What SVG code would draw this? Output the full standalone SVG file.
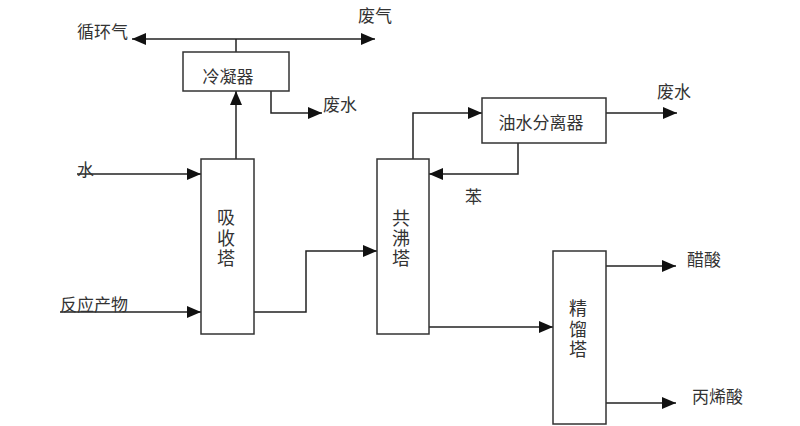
<svg xmlns="http://www.w3.org/2000/svg" width="800" height="426" viewBox="0 0 800 426">
<style>
.box{fill:#fff;stroke:#333;stroke-width:1.5}
.ln{fill:none;stroke:#222;stroke-width:1.5}
text{font-family:"Liberation Serif","Noto Sans CJK SC",serif;font-size:17px;fill:#333}
.c{text-anchor:middle}
.v{font-size:18px;text-anchor:middle}
</style>
<defs>
<marker id="ah" markerUnits="userSpaceOnUse" markerWidth="14" markerHeight="12" refX="14" refY="6" orient="auto-start-reverse">
<path d="M0,0 L14,6 L0,12 z" fill="#111"/>
</marker>
</defs>
<rect width="800" height="426" fill="#fff"/>
<g id="connectors">
<path class="ln" d="M132,39 H375" marker-start="url(#ah)" marker-end="url(#ah)"/>
<path class="ln" d="M236,52 V39"/>
<path class="ln" d="M236,159 V91" marker-end="url(#ah)"/>
<path class="ln" d="M271,83 V113 H322" marker-end="url(#ah)"/>
<path class="ln" d="M77,174 H201" marker-end="url(#ah)"/>
<path class="ln" d="M60,312 H201" marker-end="url(#ah)"/>
<path class="ln" d="M254,312 H306 V251 H377" marker-end="url(#ah)"/>
<path class="ln" d="M413,159 V113 H482" marker-end="url(#ah)"/>
<path class="ln" d="M606,113 H677" marker-end="url(#ah)"/>
<path class="ln" d="M518,143 V174 H429" marker-end="url(#ah)"/>
<path class="ln" d="M429,327 H553" marker-end="url(#ah)"/>
<path class="ln" d="M606,266 H676" marker-end="url(#ah)"/>
<path class="ln" d="M606,403 H676" marker-end="url(#ah)"/>
</g>
<g id="condenser">
<rect class="box" x="183" y="52" width="106" height="39"/>
<text class="c" x="228" y="83">冷凝器</text>
</g>
<g id="absorber">
<rect class="box" x="201" y="159" width="53" height="175"/>
<text class="v" x="226" y="224">吸</text>
<text class="v" x="226" y="245">收</text>
<text class="v" x="226" y="265">塔</text>
</g>
<g id="azeotrope">
<rect class="box" x="377" y="159" width="52" height="175"/>
<text class="v" x="401" y="225">共</text>
<text class="v" x="401" y="245">沸</text>
<text class="v" x="401" y="265">塔</text>
</g>
<g id="separator">
<rect class="box" x="482" y="98" width="124" height="45"/>
<text class="c" x="541" y="129">油水分离器</text>
</g>
<g id="rectifier">
<rect class="box" x="553" y="251" width="53" height="173"/>
<text class="v" x="578" y="315">精</text>
<text class="v" x="578" y="336">馏</text>
<text class="v" x="578" y="356">塔</text>
</g>
<g id="labels">
<text x="77" y="38">循环气</text>
<text x="358" y="22">废气</text>
<text x="323" y="111">废水</text>
<text x="77" y="176">水</text>
<text x="60" y="311">反应产物</text>
<text x="657" y="98">废水</text>
<text x="465" y="203">苯</text>
<text x="687" y="266">醋酸</text>
<text x="692" y="403">丙烯酸</text>
</g>
</svg>
